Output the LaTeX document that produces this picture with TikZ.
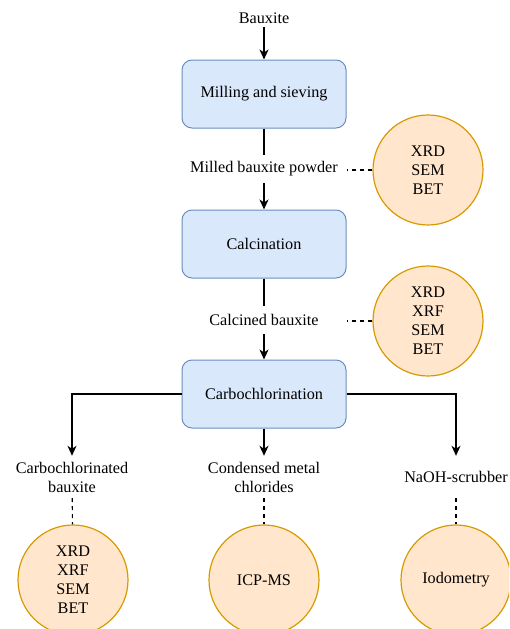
\documentclass[tikz,border=0pt]{standalone}
\usepackage{fontspec}
\setmainfont{Liberation Serif}
\usepackage{tikz}
\usetikzlibrary{positioning,calc,arrows.meta}
\definecolor{boxfill}{HTML}{DAE8FC}
\definecolor{boxline}{HTML}{6C8EBF}
\definecolor{circfill}{HTML}{FFE6CC}
\definecolor{circline}{HTML}{D79B00}

\begin{document}
\begin{tikzpicture}[x=1pt,y=-1pt,
  font=\fontsize{16.2}{19}\selectfont,
  s/.style={draw=boxline,fill=boxfill,rounded corners=10pt,line width=1pt,
            minimum width=164pt,minimum height=68pt,align=center},
  c/.style={circle,draw=circline,fill=circfill,line width=1.2pt,
            minimum size=110pt,inner sep=0pt,align=center},
  lbl/.style={minimum height=28pt,inner sep=2pt,align=center},
  prod/.style={minimum height=42pt,inner sep=0pt,align=center},
  arr/.style={-{Stealth[length=10pt,width=9pt,inset=3pt]},line width=2pt},
  arrb/.style={-{Stealth[length=10pt,width=9pt,inset=3pt]},line width=1.3pt},
  link/.style={dashed,dash pattern=on 4pt off 4pt,line width=1.1pt}]
  \clip (0,0) rectangle (509,629);
  \useasboundingbox (0,0) rectangle (509,629);
  % main line
  \node[inner sep=3pt] (bx) at (264,18) {Bauxite};
  \node[s] (mill) at (264,94)  {Milling and sieving};
  \node[lbl] (milled) at (264,169) {Milled bauxite powder};
  \node[s] (calc) at (264,244) {Calcination};
  \node[lbl] (calcd) at (264,320) {Calcined bauxite};
  \node[s] (carb) at (264,394) {Carbochlorination};
  % products
  \node[prod] (p1) at (72,477)  {Carbochlorinated\\bauxite};
  \node[prod] (p2) at (264,477) {Condensed metal\\chlorides};
  \node[prod] (p3) at (456,477) {NaOH-scrubber};
  % analyses
  \node[c] (a1) at (428,170) {XRD\\SEM\\BET};
  \node[c] (a2) at (428,321) {XRD\\XRF\\SEM\\BET};
  \node[c] (a3) at (73,580)  {XRD\\XRF\\SEM\\BET};
  \node[c] (a4) at (264,580) {ICP-MS};
  \node[c] (a5) at (456,580) {Iodometry};

  \draw[arr] (bx) -- (mill);
  \draw[line width=2pt] (mill) -- (milled);
  \draw[arr] (milled) -- (calc);
  \draw[line width=2pt] (calc) -- (calcd);
  \draw[arr] (calcd) -- (carb);
  \draw[arrb] (carb.west) -| (p1);
  \draw[arr] (carb) -- (p2);
  \draw[arrb] (carb.east) -| (p3);

  \draw[link] (a1) -- (mill.east |- a1);
  \draw[link] (a2) -- (calc.east |- a2);
  \draw[link] (p1) -- (a3);
  \draw[link] (p2) -- (a4);
  \draw[link] (p3) -- (a5);
\end{tikzpicture}
\end{document}
